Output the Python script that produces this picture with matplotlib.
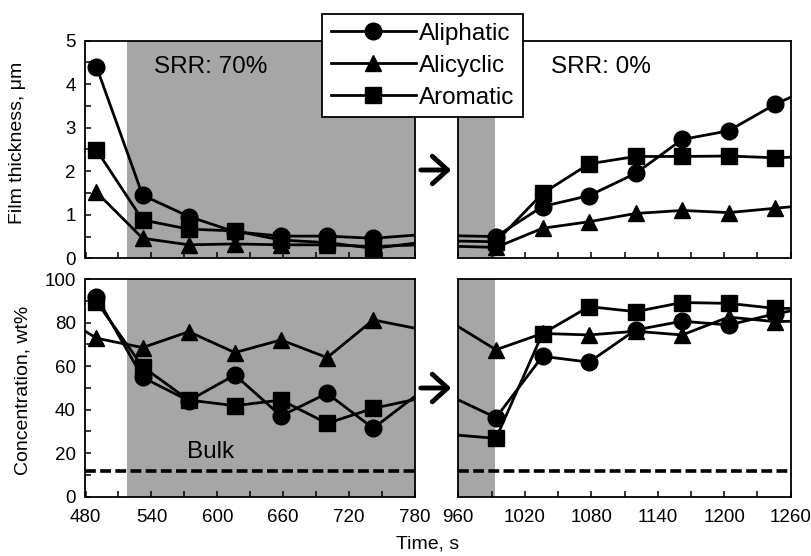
import numpy as np
import matplotlib
matplotlib.use('Agg')
import matplotlib.pyplot as plt
from matplotlib.patches import FancyArrowPatch

plt.rcParams['font.family'] = ['Liberation Sans', 'DejaVu Sans']

# sampling times (s); 448/784/952/1288 lie outside the shown windows
t = np.array([448, 490, 532, 574, 616, 658, 700, 742, 784,
              952, 994, 1036, 1078, 1120, 1162, 1204, 1246, 1288])
nan = np.nan

# film thickness, um
aliphatic_ft = [nan, 4.40, 1.45, 0.96, 0.61, 0.51, 0.51, 0.46, 0.54,
                0.52, 0.50, 1.19, 1.44, 1.95, 2.73, 2.93, 3.54, 4.02]
alicyclic_ft = [nan, 1.52, 0.46, 0.31, 0.33, 0.31, 0.31, 0.27, 0.31,
                0.28, 0.25, 0.69, 0.84, 1.03, 1.10, 1.05, 1.15, 1.25]
aromatic_ft = [nan, 2.49, 0.88, 0.67, 0.63, 0.42, 0.36, 0.23, 0.36,
               0.40, 0.38, 1.49, 2.17, 2.34, 2.34, 2.35, 2.31, 2.35]

# concentration, wt%
aliphatic_c = [nan, 91.9, 54.8, 44.1, 55.9, 37.1, 47.5, 31.4, 47.7,
               46.4, 36.3, 64.5, 61.8, 76.6, 80.6, 78.9, 84.0, 88.0]
alicyclic_c = [86.0, 72.8, 68.5, 75.8, 66.2, 72.0, 63.9, 81.2, 77.0,
               80.6, 67.5, 75.0, 74.3, 76.0, 74.3, 82.5, 80.4, 81.0]
aromatic_c = [nan, 89.6, 59.7, 44.4, 41.8, 44.4, 33.7, 40.6, 45.1,
              28.6, 26.8, 74.9, 87.3, 85.0, 89.2, 88.8, 86.5, 86.5]

bulk = 12
labels = ['Aliphatic', 'Alicyclic', 'Aromatic']
markers = ['o', '^', 's']

W, H = 812, 556
fig = plt.figure(figsize=(W/100, H/100), dpi=100)

def box(x0, x1, y0, y1):
    return [x0/W, 1-y1/H, (x1-x0)/W, (y1-y0)/H]

axTL = fig.add_axes(box(85.5, 415, 40.7, 258.3))
axTR = fig.add_axes(box(458.3, 790.7, 40.7, 258.3))
axBL = fig.add_axes(box(85.5, 415, 279, 496.7))
axBR = fig.add_axes(box(458.3, 790.7, 279, 496.7))

gray = '#a6a6a6'
for ax in [axTL, axBL]:
    ax.set_xlim(480, 780)
    ax.axvspan(518, 780, color=gray, lw=0, zorder=0)
    ax.set_xticks(np.arange(480, 781, 60))
    ax.set_xticks(np.arange(510, 781, 60), minor=True)
for ax in [axTR, axBR]:
    ax.set_xlim(960, 1260)
    ax.axvspan(960, 993, color=gray, lw=0, zorder=0)
    ax.set_xticks(np.arange(960, 1261, 60))
    ax.set_xticks(np.arange(990, 1261, 60), minor=True)
    ax.set_yticks([])
    ax.tick_params(axis='y', which='both', left=False, labelleft=False)

for ax in [axTL, axTR]:
    ax.set_ylim(0, 5)
    ax.tick_params(axis='x', which='both', labelbottom=False)
for ax in [axBL, axBR]:
    ax.set_ylim(0, 100)
    ax.axhline(bulk, color='black', lw=2.6, dashes=(3.0, 1.2), zorder=2)

axTL.set_yticks(np.arange(0, 6, 1))
axTL.set_yticks(np.arange(0.5, 5, 1), minor=True)
axBL.set_yticks(np.arange(0, 101, 20))
axBL.set_yticks(np.arange(10, 100, 20), minor=True)

for ax in [axTL, axTR, axBL, axBR]:
    ax.tick_params(which='both', direction='in', length=4, width=1.1,
                   top=False, right=False, labelsize=13.5, pad=7)
    ax.tick_params(axis='x', pad=9)
    for s in ax.spines.values():
        s.set_linewidth(1.3)

for ax, data in [(axTL, [aliphatic_ft, alicyclic_ft, aromatic_ft]),
                 (axTR, [aliphatic_ft, alicyclic_ft, aromatic_ft]),
                 (axBL, [aliphatic_c, alicyclic_c, aromatic_c]),
                 (axBR, [aliphatic_c, alicyclic_c, aromatic_c])]:
    lo, hi = ax.get_xlim()
    vis = list((t >= lo) & (t <= hi))
    for y, m, lab in zip(data, markers, labels):
        ax.plot(t, y, color='black', lw=2.0, marker=m, ms=12,
                markevery=vis, label=lab, zorder=3)

axTL.text(542, 4.4, 'SRR: 70%', fontsize=17.5, ha='left', va='center')
axTR.text(1044, 4.4, 'SRR: 0%', fontsize=17.5, ha='left', va='center')
axBL.text(572, 20.7, 'Bulk', fontsize=17.5, ha='left', va='center')

fig.text(18/W, 1-143/H, 'Film thickness, \u03bcm', rotation=90,
         fontsize=14, ha='center', va='center')
fig.text(23/W, 1-390/H, 'Concentration, wt%', rotation=90,
         fontsize=14, ha='center', va='center')
fig.text(428/W, 1-544/H, 'Time, s', fontsize=14, ha='center', va='center')

for yy in [170, 388]:
    arr = FancyArrowPatch((418/W, 1-yy/H), (454/W, 1-yy/H),
                          transform=fig.transFigure,
                          arrowstyle='->,head_length=0.5,head_width=0.45',
                          mutation_scale=22, lw=3.5, color='black')
    fig.add_artist(arr)

leg = fig.legend(*axTL.get_legend_handles_labels(), loc='upper left',
                 bbox_to_anchor=(322/W, 1-14/H), borderaxespad=0,
                 fontsize=17.5, handlelength=3.5, handletextpad=0.15,
                 labelspacing=0.42, borderpad=0.35, fancybox=False,
                 framealpha=1, edgecolor='black', numpoints=1)
leg.get_frame().set_linewidth(1.3)

fig.savefig('out.png', dpi=100)
